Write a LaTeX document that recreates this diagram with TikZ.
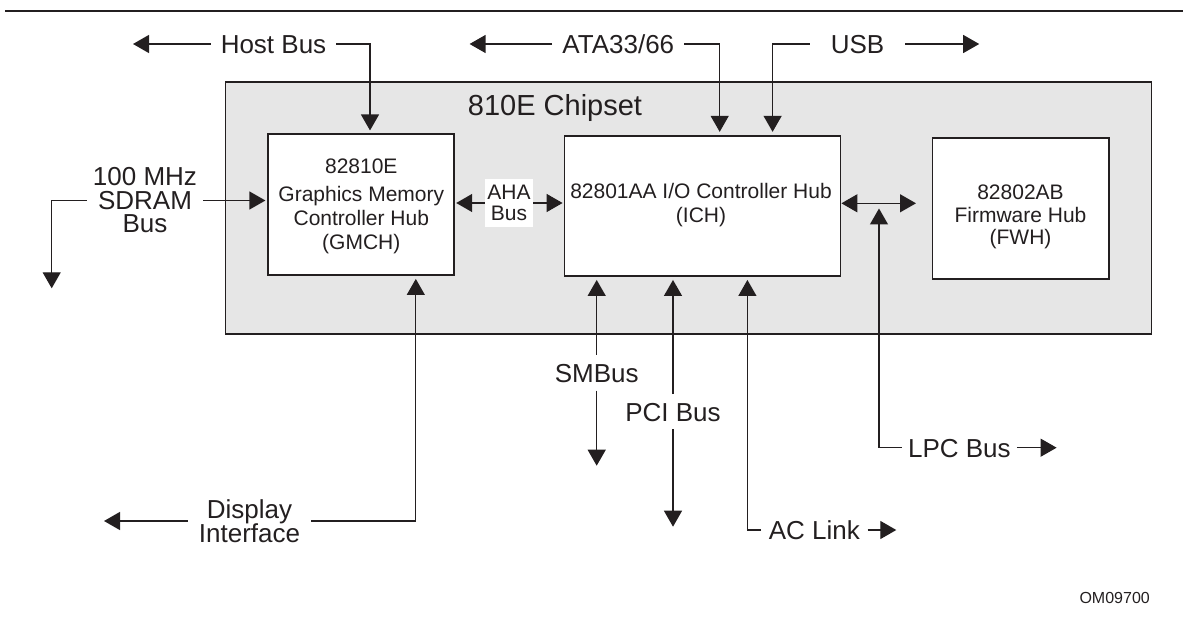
\documentclass[tikz,border=0pt]{standalone}
\usepackage{fontspec}
\setmainfont{Liberation Sans}
\usetikzlibrary{arrows.meta,calc}
\definecolor{ink}{HTML}{231F20}
\definecolor{chipgray}{HTML}{E6E6E6}
\begin{document}
\begin{tikzpicture}[x=1bp,y=-1bp,
  every node/.style={text=ink},
  conn/.style={draw=ink,line width=1.3bp},
  arr/.style={conn,-{Triangle[length=16bp,width=18bp]}},
  into/.style={shorten >=3bp},
  dbl/.style={conn,{Triangle[length=16bp,width=18bp]}-{Triangle[length=16bp,width=18bp]}},
  lbl/.style={font=\fontsize{26bp}{24bp}\selectfont, text height=18.6bp, text depth=0bp, inner ysep=0bp, inner xsep=9bp},
  mlbl/.style={align=center, inner sep=0bp},
  chip/.style={draw=ink,line width=1.8bp,fill=white,inner sep=0bp},
  chiptext/.style={align=center, inner sep=0bp},
]
\useasboundingbox (0,0) rectangle (1183,623);
% top rule
\draw[ink, line width=2.5bp] (5,11) -- (1183,11);

% chipset frame
\node[draw=ink, line width=1.8bp, fill=chipgray, minimum width=926bp, minimum height=252.3bp, inner sep=0bp, anchor=north west] (chipset) at (224.6,81) {};
\node[font=\fontsize{29bp}{29bp}\selectfont, anchor=base, inner sep=0bp] (title) at (555,116) {810E Chipset};

% hubs
\node[chip, minimum width=186bp, minimum height=140.7bp] (gmch) at (361.3,204.7) {};
\node[chiptext, font=\fontsize{21bp}{24bp}\selectfont] (gmcht) at (361.3,206.5) {82810E\\[4bp]Graphics Memory\\Controller Hub\\(GMCH)};
\node[chip, minimum width=276bp, minimum height=140.3bp] (ich) at (702.5,205.9) {};
\node[chiptext, font=\fontsize{21bp}{24bp}\selectfont] (icht) at (701,205) {82801AA I/O Controller Hub\\(ICH)};
\node[chip, minimum width=176.7bp, minimum height=140.7bp] (fwh) at (1020.9,208.7) {};
\node[chiptext, font=\fontsize{21bp}{22.3bp}\selectfont] (fwht) at (1020.5,217) {82802AB\\Firmware Hub\\(FWH)};

% AHA bus
\node[fill=white, minimum width=48bp, minimum height=47.4bp, inner sep=0bp, align=center, font=\fontsize{21bp}{21.3bp}\selectfont] (aha) at (509,203) {AHA\\Bus};
\draw[arr, shorten >=1bp] (aha.west) -- (aha.west -| gmch.east);
\draw[arr, shorten >=1bp] (aha.east) -- (aha.east -| ich.west);

% ICH - FWH and LPC
\coordinate (fwhin) at (916,203.3);
\draw[dbl] (ich.east |- fwhin) -- (fwhin);
\coordinate (lpcup) at (879,208.5);
\node[lbl, inner xsep=6bp] (lpc) at (959.4,447.7) {LPC Bus};
\draw[arr] (lpc.west) -| (lpcup);
\coordinate (lpcR) at (1056.6,447.7);
\draw[arr] (lpc.east) -- (lpcR);

% Host bus
\node[lbl, inner xsep=10bp] (host) at (273.5,44) {Host Bus};
\coordinate (hostL) at (133,44);
\draw[arr] (host.west) -- (hostL);
\draw[arr, into] (host.east) -| ([xshift=8.7bp]gmch.north);

% ATA
\node[lbl, inner xsep=10bp] (ata) at (618.3,44) {ATA33/66};
\coordinate (ataL) at (469.6,44);
\draw[arr] (ata.west) -- (ataL);
\draw[arr, into] (ata.east) -| ([xshift=17.2bp]ich.north);

% USB
\node[lbl, inner xsep=21bp] (usb) at (857.5,44) {USB};
\draw[arr, into] (usb.west) -| ([xshift=70.1bp]ich.north);
\coordinate (usbR) at (979.2,44);
\draw[arr] (usb.east) -- (usbR);

% SDRAM
\node[mlbl, inner xsep=6bp, font=\fontsize{26bp}{23.5bp}\selectfont] (sdram) at (145,200.5) {100 MHz\\SDRAM\\Bus};
\draw[arr, shorten >=2bp] (sdram.east) -- (sdram.east -| gmch.west);
\coordinate (sdramD) at (51.7,288.3);
\draw[arr] (sdram.west) -| (sdramD);

% Display
\node[mlbl, inner xsep=11bp, font=\fontsize{26bp}{24.5bp}\selectfont] (disp) at (249.5,521) {Display\\Interface};
\draw[arr, into] (disp.east) -| ([xshift=54.5bp]gmch.south);
\coordinate (dispL) at (104,521);
\draw[arr] (disp.west) -- (dispL);

% SMBus
\node[lbl, inner xsep=0bp, inner ysep=8.5bp] (smb) at (596.7,372.7) {SMBus};
\draw[arr, into] (smb.north) -- (smb.north |- ich.south);
\coordinate (smbD) at (596.7,465.7);
\draw[arr] (smb.south) -- (smbD);

% PCI
\node[lbl, inner xsep=0bp, inner ysep=8bp] (pci) at (673,411.7) {PCI Bus};
\draw[arr, into] (pci.north) -- (pci.north |- ich.south);
\coordinate (pciD) at (673,526.7);
\draw[arr] (pci.south) -- (pciD);

% AC Link
\node[lbl, inner xsep=7.5bp] (ac) at (814.3,530) {AC Link};
\draw[arr, into] (ac.west) -| ([xshift=44.9bp]ich.south);
\coordinate (acR) at (896.3,530);
\draw[arr] (ac.east) -- (acR);

% figure id
\node[font=\fontsize{16bp}{16bp}\selectfont, anchor=east, inner sep=0bp] (om) at (1150,597.7) {OM09700};
\end{tikzpicture}
\end{document}
